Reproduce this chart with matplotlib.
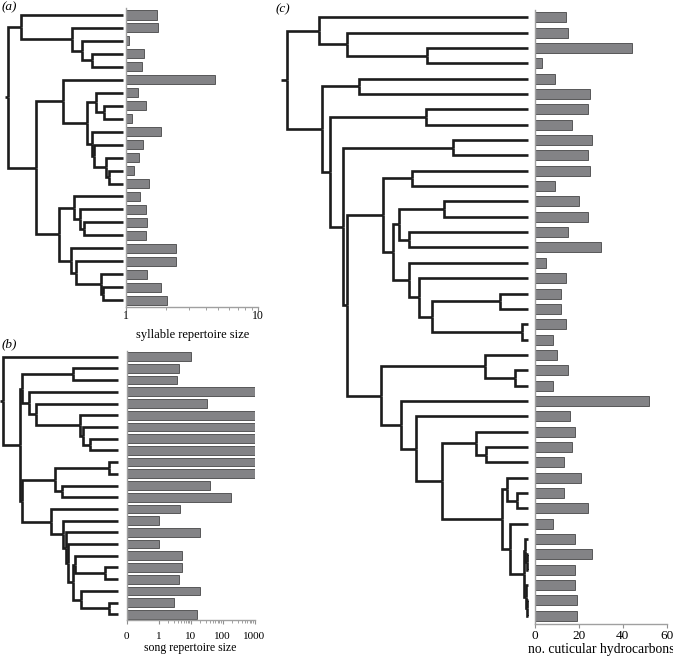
import numpy as np
import matplotlib
matplotlib.use("Agg")
import matplotlib.pyplot as plt
from matplotlib.collections import LineCollection
from matplotlib.ticker import FixedLocator, NullFormatter

plt.rcParams['font.family'] = ['Liberation Serif', 'DejaVu Serif']

# bar values, tips listed top to bottom
syllable = [1.72, 1.74, 1.04, 1.36, 1.31, 4.75, 1.22, 1.42, 1.11, 1.84, 1.35, 1.24,
            1.14, 1.50, 1.28, 1.41, 1.43, 1.41, 2.39, 2.39, 1.43, 1.83, 2.03]
song = [10, 4.2, 3.8, 1000, 32, 1000, 1000, 1000, 1000, 1000, 1000, 41,
        190, 4.6, 1, 19, 1, 5.4, 5.4, 4.3, 20, 3.1, 16]
hydrocarbons = [14, 15, 44, 3, 9, 25, 24, 17, 26, 24, 25, 9, 20, 24, 15, 30, 5, 14,
                12, 12, 14, 8, 10, 15, 8, 52, 16, 18, 17, 13, 21, 13, 24, 8, 18, 26,
                18, 18, 19, 19]

# trees: (node depth from root, child, child); ints are tips (row index)
tree_a = (0.0,
          (0.11, 0, (0.56, 1, (0.64, 2, (0.73, 3, 4)))),
          (0.24,
           (0.48, 5, (0.69, (0.77, 6, (0.84, 7, 8)),
                      (0.73, 9, (0.75, 10, (0.85, 11, (0.88, 12, 13)))))),
           (0.44, (0.57, 14, (0.63, 15, (0.66, 16, 17))),
            (0.55, 18, (0.59, 19, (0.81, 20, (0.83, 21, 22)))))))

tree_b = (0.0, 0,
          (0.150,
           (0.167, (0.605, 1, 2),
            (0.231, 3, (0.288, 4, (0.669, 5, (0.697, 6, (0.755, 7, 8)))))),
           (0.168,
            (0.452, (0.922, 9, 10), (0.513, 11, 12)),
            (0.415, 13, (0.519, 14, (0.548, 15, (0.568, 16,
             (0.611, (0.625, 17, (0.885, 18, 19)), (0.674, 20, (0.919, 21, 22))))))))))

tree_c = (0.0,
          (0.135, 0, (0.251, 1, (0.579, 2, 3))),
          (0.145,
           (0.30, 4, 5),
           (0.179,
            (0.577, 6, 7),
            (0.232,
             (0.687, 8, 9),
             (0.251,
              (0.397,
               (0.52, 10, 11),
               (0.439,
                (0.466, (0.651, 12, 13), (0.508, 14, 15)),
                (0.508, 16, (0.548, 17, (0.60, (0.883, 18, 19), (0.972, 20, 21)))))),
              (0.389,
               (0.821, 22, (0.945, 23, 24)),
               (0.472, 25, (0.534, 26, (0.644,
                (0.782, 27, (0.825, 28, 29)),
                (0.892, (0.91, 30, (0.952, 31, 32)),
                 (0.924, 33, (0.983, (0.988, 34, (0.993, 35, 36)),
                              (0.99, 37, (0.994, 38, 39))))))))))))))

W, H = 673, 658
fig = plt.figure(figsize=(W / 100, H / 100), dpi=100)


def rect(x0, x1, y0, y1):
    # pixel box -> figure fraction
    return [x0 / W, 1 - y1 / H, (x1 - x0) / W, (y1 - y0) / H]


def layout(node, segs):
    if not isinstance(node, tuple):
        return 1.0, float(node)
    x = node[0]
    kids = [layout(c, segs) for c in node[1:]]
    ys = [k[1] for k in kids]
    y = (min(ys) + max(ys)) / 2
    for cx, cy in kids:
        segs.append([(x, y), (x, cy), (cx, cy)])
    return x, y


def draw_tree(box, tree, n, stub):
    ax = fig.add_axes(box)
    segs = []
    x0, y0 = layout(tree, segs)
    segs.append([(-stub, y0), (x0, y0)])
    lc = LineCollection(segs, colors='#1c1c1c', linewidths=1.9,
                        joinstyle='miter', capstyle='butt')
    lc.set_clip_on(False)
    ax.add_collection(lc)
    ax.set_xlim(-stub, 1)
    ax.set_ylim(n - 0.5, -0.5)
    ax.axis('off')


def draw_bars(box, vals, h, label, tsize, lsize, pad, lpad, left=0):
    ax = fig.add_axes(box)
    y = np.arange(len(vals))
    ax.barh(y, np.array(vals) - left, left=left, height=h, color='#838386',
            edgecolor='#474747', linewidth=0.6)
    ax.set_ylim(len(vals) - 0.5, -0.5)
    for s in ['top', 'right']:
        ax.spines[s].set_visible(False)
    for s in ['left', 'bottom']:
        ax.spines[s].set_color('#a0a0a0')
        ax.spines[s].set_linewidth(1.0)
    ax.set_yticks([])
    ax.tick_params(axis='x', direction='out', length=3, width=0.8, color='#909090',
                   pad=pad, labelsize=tsize)
    ax.tick_params(axis='x', which='minor', length=2, width=0.6, color='#909090')
    ax.set_xlabel(label, fontsize=lsize, labelpad=lpad)
    return ax


# (a)
ya = (8.5, 306.7)
draw_tree(rect(5, 122.7, *ya), tree_a, 23, 0.029)
ax = draw_bars(rect(126.3, 258, *ya), syllable, 0.7, 'syllable repertoire size',
               8.5, 9, -0.3, 5, left=1)
ax.set_xscale('log')
ax.set_xlim(1, 10)
ax.set_xticks([1, 10], ['1', '10'])
ax.xaxis.set_minor_locator(FixedLocator(np.arange(2, 10)))
ax.xaxis.set_minor_formatter(NullFormatter())

# (b)
yb = (350.8, 620.2)
draw_tree(rect(0, 118.3, *yb), tree_b, 23, 0.0234)
ax = draw_bars(rect(126.8, 254.5, *yb), song, 0.74, 'song repertoire size',
               8, 8.5, 5.5, 0.8)
ax.set_xscale('symlog', linthresh=1, linscale=0.9)
ax.set_xlim(0, 1000)
ax.set_xticks([0, 1, 10, 100, 1000], ['0', '1', '10', '100', '1000'])
minors = [m * d for d in (1, 10, 100) for m in range(2, 10)]
ax.xaxis.set_minor_locator(FixedLocator(minors))
ax.xaxis.set_minor_formatter(NullFormatter())

# (c)
yc = (9.6, 623.5)
draw_tree(rect(281, 528.3, *yc), tree_c, 40, 0.0236)
ax = draw_bars(rect(535, 666.7, *yc), hydrocarbons, 0.65, 'no. cuticular hydrocarbons',
               9.5, 9.8, 1.5, 1)
ax.set_xlim(0, 60)
ax.set_xticks([0, 20, 40, 60])

for x, y, t in [(2, 1, '(a)'), (2, 338, '(b)'), (276, 3, '(c)')]:
    fig.text(x / W, 1 - y / H, t, style='italic', fontsize=9.5, va='top', ha='left')

fig.savefig('out.png', dpi=100)
